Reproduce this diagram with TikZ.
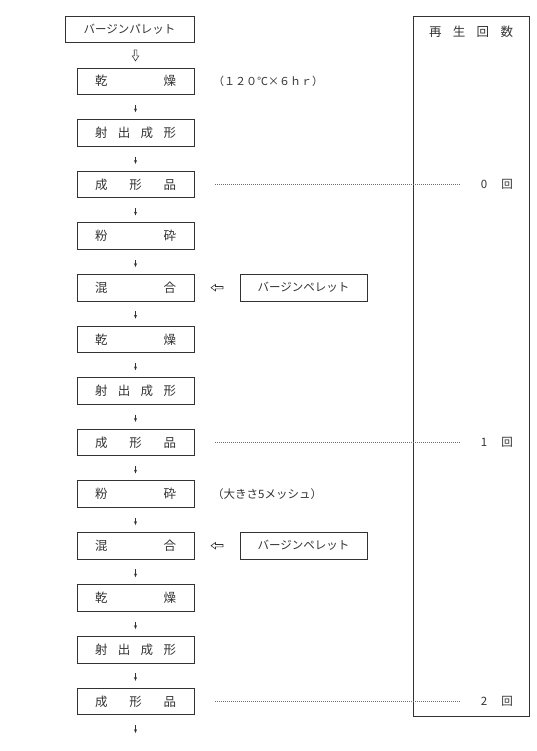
\documentclass[tikz,border=0pt]{standalone}
\usepackage{fontspec}
\setmainfont{Noto Sans CJK JP}
\usetikzlibrary{calc,arrows.meta}
\definecolor{ink}{gray}{0.2}
\begin{document}
\begin{tikzpicture}[x=1pt,y=-1pt,
  every node/.style={text=ink},
  box/.style={draw=ink, line width=0.8pt, minimum width=117pt, minimum height=26.5pt, inner sep=0pt, font=\fontsize{12.5}{12.5}\selectfont},
  vbox/.style={draw=ink, line width=0.8pt, minimum width=127pt, minimum height=26.5pt, inner sep=0pt, font=\fontsize{11.5}{11.5}\selectfont},
  arr/.style={draw=ink, line width=0.6pt, -{Stealth[length=3.8pt,width=3pt]}, shorten <=10pt, shorten >=7pt},
  dotline/.style={draw=ink!70, line width=0.6pt, dash pattern=on 0.7pt off 1.3pt},
  lbl/.style={font=\fontsize{11}{11}\selectfont, anchor=west, inner sep=0pt},
  cnt/.style={font=\fontsize{11.5}{11.5}\selectfont, inner sep=0pt},
  hdown/.pic={\draw[ink, line width=0.6pt] (-1.3,-5.5) -- (-1.3,0.5) -- (-3.3,0.5) -- (0,5.5) -- (3.3,0.5) -- (1.3,0.5) -- (1.3,-5.5) -- cycle;},
  hleft/.pic={\draw[ink, line width=0.6pt] (6,-1.2) -- (-1.5,-1.2) -- (-1.5,-3.2) -- (-6,0) -- (-1.5,3.2) -- (-1.5,1.2) -- (6,1.2) -- cycle;}
]
\useasboundingbox (0,0) rectangle (536,751);

% left column of boxes
\node[box, minimum width=129pt, font=\fontsize{11.5}{11.5}\selectfont] (b1) at (129.5,29.5) {バージンパレット};
\node[box] (b2)  at (135.5,81.2)  {\hbox to 81pt{乾\hfill 燥}};
\node[box] (b3)  at (135.5,132.9) {\hbox to 81pt{射\hfill 出\hfill 成\hfill 形}};
\node[box] (b4)  at (135.5,184.5) {\hbox to 81pt{成\hfill 形\hfill 品}};
\node[box] (b5)  at (135.5,236.1) {\hbox to 81pt{粉\hfill 砕}};
\node[box] (b6)  at (135.5,287.7) {\hbox to 81pt{混\hfill 合}};
\node[box] (b7)  at (135.5,339.3) {\hbox to 81pt{乾\hfill 燥}};
\node[box] (b8)  at (135.5,390.9) {\hbox to 81pt{射\hfill 出\hfill 成\hfill 形}};
\node[box] (b9)  at (135.5,442.5) {\hbox to 81pt{成\hfill 形\hfill 品}};
\node[box] (b10) at (135.5,494.1) {\hbox to 81pt{粉\hfill 砕}};
\node[box] (b11) at (135.5,545.7) {\hbox to 81pt{混\hfill 合}};
\node[box] (b12) at (135.5,597.9) {\hbox to 81pt{乾\hfill 燥}};
\node[box] (b13) at (135.5,649.7) {\hbox to 81pt{射\hfill 出\hfill 成\hfill 形}};
\node[box] (b14) at (135.5,701.5) {\hbox to 81pt{成\hfill 形\hfill 品}};
\coordinate (bend) at (135.5,733);

% arrows
\pic at ($(b1.south)!0.5!(b2.north)+(3,0)$) {hdown};
\foreach \a/\b in {b2/b3,b3/b4,b4/b5,b5/b6,b6/b7,b7/b8,b8/b9,b9/b10,b10/b11,b11/b12,b12/b13,b13/b14}
  \draw[arr] (\a) -- (\b);
\draw[arr, shorten >=0pt] (b14) -- (bend);

% side notes
\node[lbl] (n1) at (213,81.2) {（１２０℃×６ｈｒ）};
\node[lbl, font=\fontsize{11.5}{11.5}\selectfont] (n2) at (212,494.1) {（大きさ5メッシュ）};

% virgin pellet feeds
\node[vbox] (v1) at (303.5,287.7) {バージンペレット};
\node[vbox] (v2) at (303.5,545.7) {バージンペレット};
\pic at ($(b6.east)!0.5!(v1.west)$) {hleft};
\pic at ($(b11.east)!0.5!(v2.west)$) {hleft};

% regeneration count column
\node[draw=ink, line width=0.8pt, minimum width=116pt, minimum height=700pt, inner sep=0pt, anchor=north west] (col) at (413,16) {};
\node[font=\fontsize{12.5}{12.5}\selectfont, inner sep=0pt] (hd) at (471,32) {\hbox to 84pt{再\hfill 生\hfill 回\hfill 数}};

\node[cnt] (c0) at (484,184.5) {0};
\node[cnt] (r0) at (507,184.5) {回};
\node[cnt] (c1) at (484,442.5) {1};
\node[cnt] (r1) at (507,442.5) {回};
\node[cnt] (c2) at (484,701.5) {2};
\node[cnt] (r2) at (507,701.5) {回};

\draw[dotline] ([xshift=21pt]b4.east) -- ([xshift=-20pt]c0.west);
\draw[dotline] ([xshift=21pt]b9.east) -- ([xshift=-20pt]c1.west);
\draw[dotline] ([xshift=21pt]b14.east) -- ([xshift=-20pt]c2.west);
\end{tikzpicture}
\end{document}
